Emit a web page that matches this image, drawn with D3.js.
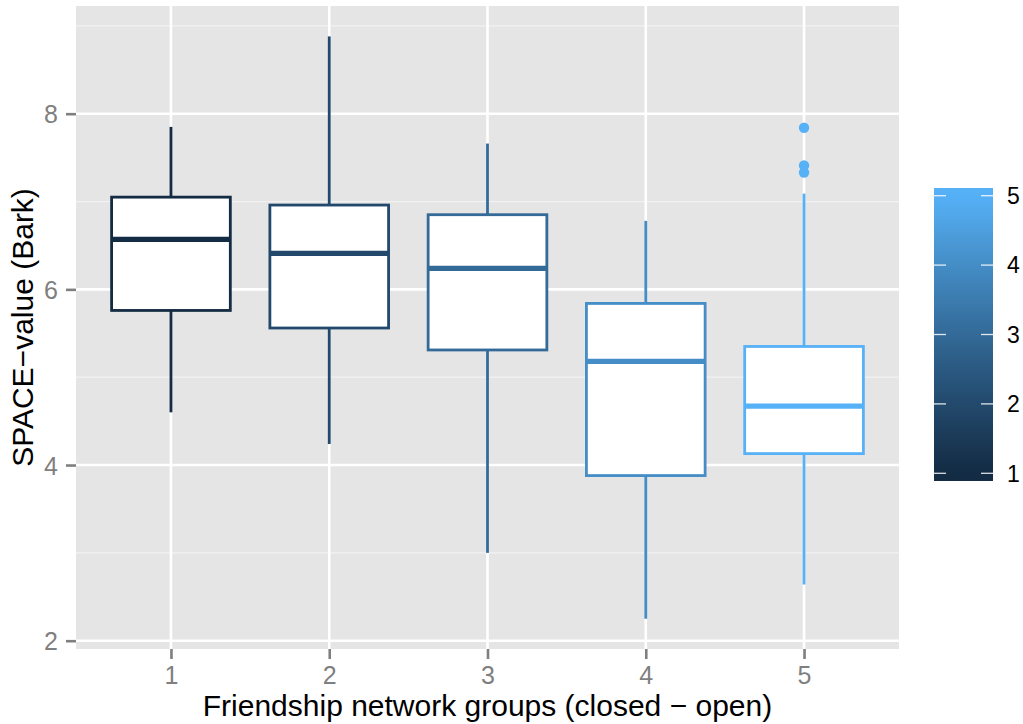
<!DOCTYPE html>
<html>
<head>
<meta charset="utf-8">
<script src="https://cdn.jsdelivr.net/npm/d3@7/dist/d3.min.js"></script>
<style>
  html, body { margin: 0; padding: 0; background: #ffffff; }
  svg { display: block; font-family: "Liberation Sans", Arial, Helvetica, sans-serif; }
</style>
</head>
<body>
<svg id="chart" width="1023" height="724"></svg>
<script>
// Friendship network groups, from closed (1) to open (5)
const groups = ["1", "2", "3", "4", "5"];
// Five-number summaries of SPACE-value (Bark) per group
const whiskerLow  = [4.60, 4.24, 3.00, 2.25, 2.64];
const quart1      = [5.76, 5.56, 5.31, 3.88, 4.13];
const medians     = [6.57, 6.41, 6.24, 5.18, 4.67];
const quart3      = [7.05, 6.96, 6.85, 5.84, 5.35];
const whiskerHigh = [7.85, 8.88, 7.66, 6.78, 7.09];
// Points beyond the whiskers: [group, value]
const outliers = [["5", 7.84], ["5", 7.41], ["5", 7.33]];

const yTicks = [2, 4, 6, 8];
const yMinor = [3, 5, 7, 9];
const legendTicks = [1, 2, 3, 4, 5];

const svg = d3.select("#chart");
const panel = { left: 76, right: 899, top: 6, bottom: 649 };

const x = d3.scalePoint().domain(groups).range([panel.left, panel.right]).padding(0.6);
const y = d3.scaleLinear().domain([1.9055, 9.2262]).range([panel.bottom, panel.top]);
const boxW = x.step() * 0.75;

// Continuous colour scale by group number
const colour = d3.scaleLinear().domain([1, 5]).range(["#132B43", "#56B1F7"])
  .interpolate(d3.interpolateLab);

// Panel background and grid
svg.append("rect")
  .attr("x", panel.left).attr("y", panel.top)
  .attr("width", panel.right - panel.left).attr("height", panel.bottom - panel.top)
  .attr("fill", "#E5E5E5");

svg.append("g").selectAll("line").data(yMinor).join("line")
  .attr("x1", panel.left).attr("x2", panel.right)
  .attr("y1", d => y(d)).attr("y2", d => y(d))
  .attr("stroke", "#F2F2F2").attr("stroke-width", 1.2);

svg.append("g").selectAll("line").data(yTicks).join("line")
  .attr("x1", panel.left).attr("x2", panel.right)
  .attr("y1", d => y(d)).attr("y2", d => y(d))
  .attr("stroke", "#ffffff").attr("stroke-width", 2.6);

svg.append("g").selectAll("line").data(groups).join("line")
  .attr("x1", d => x(d)).attr("x2", d => x(d))
  .attr("y1", panel.top).attr("y2", panel.bottom)
  .attr("stroke", "#ffffff").attr("stroke-width", 2.6);

// Boxplots
const boxes = groups.map((g, i) => ({
  g, c: colour(+g),
  lo: whiskerLow[i], q1: quart1[i], med: medians[i], q3: quart3[i], hi: whiskerHigh[i]
}));

const bg = svg.append("g").selectAll("g").data(boxes).join("g");
bg.append("line")
  .attr("x1", d => x(d.g)).attr("x2", d => x(d.g))
  .attr("y1", d => y(d.q3)).attr("y2", d => y(d.hi))
  .attr("stroke", d => d.c).attr("stroke-width", 2.8);
bg.append("line")
  .attr("x1", d => x(d.g)).attr("x2", d => x(d.g))
  .attr("y1", d => y(d.q1)).attr("y2", d => y(d.lo))
  .attr("stroke", d => d.c).attr("stroke-width", 2.8);
bg.append("rect")
  .attr("x", d => x(d.g) - boxW / 2).attr("width", boxW)
  .attr("y", d => y(d.q3)).attr("height", d => y(d.q1) - y(d.q3))
  .attr("fill", "#ffffff").attr("stroke", d => d.c).attr("stroke-width", 2.8);
bg.append("line")
  .attr("x1", d => x(d.g) - boxW / 2).attr("x2", d => x(d.g) + boxW / 2)
  .attr("y1", d => y(d.med)).attr("y2", d => y(d.med))
  .attr("stroke", d => d.c).attr("stroke-width", 5.2);

svg.append("g").selectAll("circle").data(outliers).join("circle")
  .attr("cx", d => x(d[0])).attr("cy", d => y(d[1])).attr("r", 5.2)
  .attr("fill", d => colour(+d[0]));

// Axes
const yAxis = d3.axisLeft(y).tickValues(yTicks).tickSize(10).tickPadding(8).tickFormat(d3.format("d"));
const yG = svg.append("g").attr("transform", `translate(${panel.left},0)`).call(yAxis);
const xAxis = d3.axisBottom(x).tickSize(10).tickPadding(7);
const xG = svg.append("g").attr("transform", `translate(0,${panel.bottom})`).call(xAxis);
[yG, xG].forEach(g => {
  g.select(".domain").remove();
  g.selectAll(".tick line").attr("stroke", "#7F7F7F").attr("stroke-width", 2.6);
  g.selectAll(".tick text").attr("fill", "#7F7F7F")
    .style("font-size", "25px").style("font-family", "'Liberation Sans', Arial, Helvetica, sans-serif");
});
yG.selectAll(".tick text").attr("dy", "0.36em");
xG.selectAll(".tick text").attr("dy", "0.71em");

// Axis titles
svg.append("text")
  .attr("x", (panel.left + panel.right) / 2).attr("y", 716)
  .attr("text-anchor", "middle").attr("fill", "#000")
  .style("font-size", "30px")
  .text("Friendship network groups (closed \u2212 open)");

svg.append("text")
  .attr("transform", `translate(33,${(panel.top + panel.bottom) / 2}) rotate(-90)`)
  .attr("text-anchor", "middle").attr("fill", "#000")
  .style("font-size", "30px")
  .text("SPACE\u2212value (Bark)");

// Colour bar legend
const bar = { x: 934, w: 59, top: 188, bottom: 481 };
const ly = d3.scaleLinear().domain([1, 5]).range([473.3, 195.7]);
const defs = svg.append("defs");
const grad = defs.append("linearGradient").attr("id", "cbar")
  .attr("x1", 0).attr("y1", 1).attr("x2", 0).attr("y2", 0);
d3.range(0, 1.0001, 0.05).forEach(t => {
  const v = ly.invert(bar.bottom + t * (bar.top - bar.bottom));
  grad.append("stop").attr("offset", t)
    .attr("stop-color", colour(Math.max(1, Math.min(5, v))));
});
svg.append("rect")
  .attr("x", bar.x).attr("y", bar.top).attr("width", bar.w).attr("height", bar.bottom - bar.top)
  .attr("fill", "url(#cbar)");
const lt = svg.append("g").selectAll("g").data(legendTicks).join("g");
lt.append("line")
  .attr("x1", bar.x).attr("x2", bar.x + 12)
  .attr("y1", d => ly(d)).attr("y2", d => ly(d))
  .attr("stroke", "#ffffff").attr("stroke-opacity", 0.85).attr("stroke-width", 1.3);
lt.append("line")
  .attr("x1", bar.x + bar.w - 12).attr("x2", bar.x + bar.w)
  .attr("y1", d => ly(d)).attr("y2", d => ly(d))
  .attr("stroke", "#ffffff").attr("stroke-opacity", 0.85).attr("stroke-width", 1.3);
lt.append("text")
  .attr("x", 1007).attr("y", d => ly(d)).attr("dy", "0.36em")
  .attr("fill", "#000").style("font-size", "23px")
  .text(d => d);
</script>
</body>
</html>
